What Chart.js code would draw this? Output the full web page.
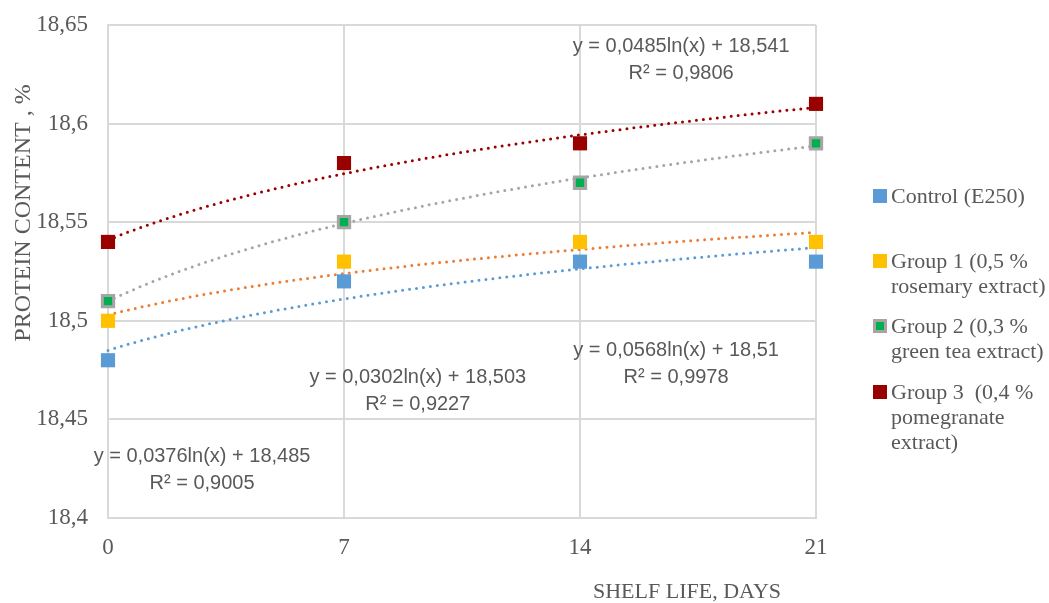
<!DOCTYPE html>
<html>
<head>
<meta charset="utf-8">
<script src="https://cdn.jsdelivr.net/npm/chart.js@4.4.0/dist/chart.umd.min.js"></script>
<style>
  html, body { margin: 0; padding: 0; background: #fff; }
</style>
</head>
<body>
<canvas id="chart" width="1049" height="603"></canvas>
<script>
const days = [0, 7, 14, 21];
const seriesNames = ["Control (E250)", "Group 1 (0,5 %", "Group 2 (0,3 %", "Group 3  (0,4 %"];
const legendLines = [
  ["Control (E250)"],
  ["Group 1 (0,5 %", "rosemary extract)"],
  ["Group 2 (0,3 %", "green tea extract)"],
  ["Group 3  (0,4 %", "pomegranate", "extract)"]
];
const control = [18.48, 18.52, 18.53, 18.53];
const group1 = [18.50, 18.53, 18.54, 18.54];
const group2 = [18.51, 18.55, 18.57, 18.59];
const group3 = [18.54, 18.58, 18.59, 18.61];

// logarithmic trendlines as printed on the chart (x = 1, 2, 3, 4)
const trendSlope = [0.0376, 0.0302, 0.0568, 0.0485];
const trendIntercept = [18.485, 18.503, 18.51, 18.541];
const trendText = ["y = 0,0376ln(x) + 18,485", "y = 0,0302ln(x) + 18,503", "y = 0,0568ln(x) + 18,51", "y = 0,0485ln(x) + 18,541"];
const r2Text = ["R² = 0,9005", "R² = 0,9227", "R² = 0,9978", "R² = 0,9806"];
// where each equation sits, in axis units (days, %)
const labelDay = [2.79, 9.19, 16.85, 17.0];
const labelValue = [18.431, 18.4715, 18.485, 18.639];

const markerFill = ["#5B9BD5", "#FFC000", "#00B050", "#990000"];
const markerEdge = ["#5B9BD5", "#FFC000", "#A5A5A5", "#990000"];
const trendColor = ["#5B9BD5", "#ED7D31", "#A5A5A5", "#990000"];

const allSeries = [control, group1, group2, group3];
const textGray = "#595959";
const serif = "'Liberation Serif', 'Times New Roman', serif";
const sans = "'Liberation Sans', Arial, sans-serif";

const datasets = [];
allSeries.forEach((vals, i) => {
  datasets.push({
    label: seriesNames[i],
    data: days.map((d, k) => ({ x: d, y: vals[k] })),
    showLine: false,
    clip: false,
    pointStyle: "rect",
    pointRadius: i === 2 ? 8 : 10,
    pointHoverRadius: i === 2 ? 8 : 10,
    pointBackgroundColor: markerFill[i],
    pointBorderColor: markerEdge[i],
    pointBorderWidth: i === 2 ? 3 : 0,
    order: 0
  });
});
allSeries.forEach((vals, i) => {
  const pts = [];
  for (let d = 0; d <= 21; d += 0.5) {
    pts.push({ x: d, y: trendSlope[i] * Math.log(d / 7 + 1) + trendIntercept[i] });
  }
  datasets.push({
    label: "trend " + i,
    data: pts,
    showLine: true,
    clip: false,
    pointRadius: 0,
    borderColor: trendColor[i],
    borderWidth: 3,
    borderDash: [0, 7],
    borderCapStyle: "round",
    tension: 0,
    order: 1
  });
});

const extras = {
  id: "extras",
  afterDraw(chart) {
    const ctx = chart.ctx;
    const xs = chart.scales.x, ys = chart.scales.y;
    ctx.save();
    // trendline equations
    ctx.fillStyle = textGray;
    ctx.font = "20px " + sans;
    ctx.textAlign = "center";
    ctx.textBaseline = "middle";
    for (let i = 0; i < 4; i++) {
      const px = xs.getPixelForValue(labelDay[i]);
      const py = ys.getPixelForValue(labelValue[i]);
      ctx.fillText(trendText[i], px, py);
      ctx.fillText(r2Text[i], px, py + 27);
    }
    // axis titles
    ctx.font = "24px " + serif;
    ctx.save();
    ctx.translate(24, 213);
    ctx.rotate(-Math.PI / 2);
    ctx.fillText("PROTEIN CONTENT , %", 0, 0);
    ctx.restore();
    ctx.font = "22px " + serif;
    ctx.fillText("SHELF LIFE, DAYS", 687, 592);
    // legend
    const rowTop = [197, 262, 327, 393];
    ctx.textAlign = "left";
    ctx.font = "22px " + serif;
    for (let i = 0; i < 4; i++) {
      const y0 = rowTop[i];
      if (i === 2) {
        ctx.fillStyle = "#A5A5A5";
        ctx.fillRect(873, y0 - 8, 14, 14);
        ctx.fillStyle = markerFill[i];
        ctx.fillRect(876, y0 - 5, 8, 8);
      } else {
        ctx.fillStyle = markerFill[i];
        ctx.fillRect(873, y0 - 8, 14, 14);
      }
      ctx.fillStyle = textGray;
      legendLines[i].forEach((t, k) => ctx.fillText(t, 891, y0 + k * 25));
    }
    ctx.restore();
  }
};

new Chart(document.getElementById("chart"), {
  type: "scatter",
  data: { datasets: datasets },
  options: {
    responsive: false,
    animation: false,
    layout: { autoPadding: false, padding: { top: 25, right: 233, left: 0, bottom: 0 } },
    plugins: {
      legend: { display: false },
      tooltip: { enabled: false }
    },
    scales: {
      x: {
        type: "linear",
        min: 0,
        max: 21,
        afterFit: (s) => { s.height = 85; s.paddingLeft = 0; s.paddingRight = 0; },
        ticks: {
          stepSize: 7,
          padding: 16,
          color: textGray,
          font: { family: serif, size: 23 }
        },
        grid: { color: "#D9D9D9", lineWidth: 2, drawTicks: false },
        border: { color: "#D9D9D9", width: 2 }
      },
      y: {
        min: 18.4,
        max: 18.65,
        afterFit: (s) => { s.width = 108; s.paddingTop = 0; s.paddingBottom = 0; },
        ticks: {
          stepSize: 0.05,
          padding: 20,
          color: textGray,
          font: { family: serif, size: 23 },
          callback: (v) => String(Math.round(v * 100) / 100).replace(".", ",")
        },
        grid: { color: "#D9D9D9", lineWidth: 2, drawTicks: false },
        border: { color: "#D9D9D9", width: 2 }
      }
    }
  },
  plugins: [extras]
});
</script>
</body>
</html>
